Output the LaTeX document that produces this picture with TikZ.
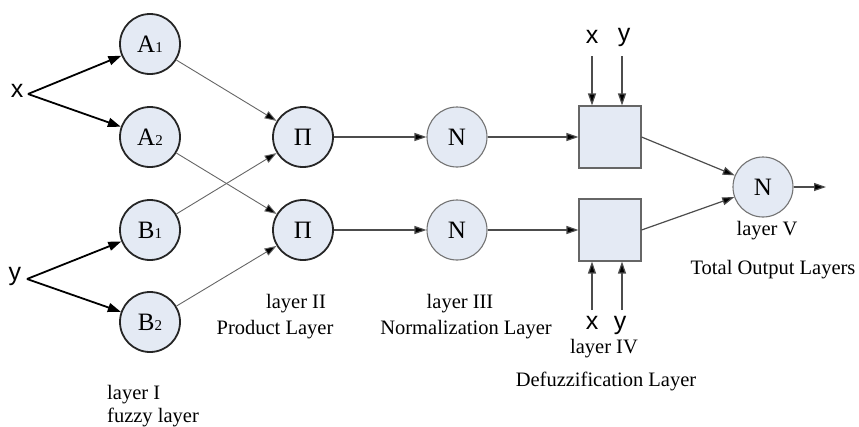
\documentclass[tikz,border=0pt]{standalone}
\usepackage{fontspec}
\setmainfont{Liberation Serif}
\newfontfamily\arial{Liberation Sans}
\usetikzlibrary{arrows.meta}
\definecolor{nfill}{HTML}{E4EAF4}
\tikzset{
  mf/.style={circle,draw=black!85,line width=1.8pt,fill=nfill,minimum size=60pt,inner sep=0pt,font=\fontsize{25}{25}\selectfont},
  nn/.style={circle,draw=black!55,line width=1.1pt,fill=nfill,minimum size=60pt,inner sep=0pt,font=\fontsize{25}{25}\selectfont},
  bx/.style={rectangle,draw=black!60,line width=1.1pt,fill=nfill,minimum width=62pt,minimum height=62pt,inner sep=0pt},
  lbl/.style={font=\fontsize{20.5}{20.5}\selectfont,inner sep=0pt},
  var/.style={font=\arial\fontsize{25}{25}\selectfont,inner sep=0pt},
  thick arr/.style={line width=1.8pt,-{Triangle[length=13pt,width=9pt]}},
  thin arr/.style={draw=black!60,line width=0.9pt,-{Triangle[length=12pt,width=8pt,fill=black]}},
  mid arr/.style={draw=black!70,line width=1.2pt,-{Triangle[length=12pt,width=8pt,fill=black]}},
}
\newcommand{\sub}[1]{{\fontsize{15}{15}\selectfont #1}}
\begin{document}
\begin{tikzpicture}[x=1pt,y=-1pt]
\useasboundingbox (0,0) rectangle (859,426);
% inputs
\node[var] (x) at (17,91) {x};
\node[var] (y) at (15,276) {y};
\coordinate (xo) at (28,94);
\coordinate (yo) at (27,279);
% layer I
\node[mf] (A1) at (150,44) {A\sub{1}};
\node[mf] (A2) at (150,137) {A\sub{2}};
\node[mf] (B1) at (150,230) {B\sub{1}};
\node[mf] (B2) at (150,322) {B\sub{2}};
% layer II
\node[mf] (P1) at (303,137) {Π};
\node[mf] (P2) at (303,230) {Π};
% layer III
\node[nn] (N1) at (457,137) {N};
\node[nn] (N2) at (457,230) {N};
% layer IV
\node[bx] (D1) at (610,137) {};
\node[bx] (D2) at (610,230) {};
% layer V
\node[nn] (O) at (763,187) {N};
\coordinate (out) at (826,187);
% x y inputs to boxes
\node[var] (tx) at (592,37) {x};
\node[var] (ty) at (624,37) {y};
\node[var] (bxl) at (592,323) {x};
\node[var] (byl) at (620,325) {y};
\coordinate (tx0) at (592,56);
\coordinate (ty0) at (622,56);
\coordinate (bx0) at (592,310);
\coordinate (by0) at (622,310);
% connectors
\draw[thick arr] (xo) -- (A1);
\draw[thick arr] (xo) -- (A2);
\draw[thick arr] (yo) -- (B1);
\draw[thick arr] (yo) -- (B2);
\draw[thin arr] (A1) -- (P1);
\draw[thin arr] (A2) -- (P2);
\draw[thin arr] (B1) -- (P1);
\draw[thin arr] (B2) -- (P2);
\draw[mid arr] (P1) -- (N1);
\draw[mid arr] (P2) -- (N2);
\draw[mid arr] (N1) -- (D1);
\draw[mid arr] (N2) -- (D2);
\draw[mid arr] (D1.east) -- (O);
\draw[mid arr] (D2.east) -- (O);
\draw[mid arr] (O) -- (out);
\draw[mid arr] (tx0) -- (tx0 |- D1.north);
\draw[mid arr] (ty0) -- (ty0 |- D1.north);
\draw[mid arr] (bx0) -- (bx0 |- D2.south);
\draw[mid arr] (by0) -- (by0 |- D2.south);
% labels
\node[lbl,anchor=base west] (l1a) at (107,399) {layer I};
\node[lbl,anchor=base west] (l1b) at (107,422) {fuzzy layer};
\node[lbl,anchor=base] (l2a) at (296,308) {layer II};
\node[lbl,anchor=base] (l2b) at (275,334) {Product Layer};
\node[lbl,anchor=base] (l3a) at (460,308) {layer III};
\node[lbl,anchor=base] (l3b) at (466,334) {Normalization Layer};
\node[lbl,anchor=base] (l4a) at (604,353) {layer IV};
\node[lbl,anchor=base] (l4b) at (606,386) {Defuzzification Layer};
\node[lbl,anchor=base] (l5a) at (767,235) {layer V};
\node[lbl,anchor=base] (l5b) at (773,274) {Total Output Layers};
\end{tikzpicture}
\end{document}
